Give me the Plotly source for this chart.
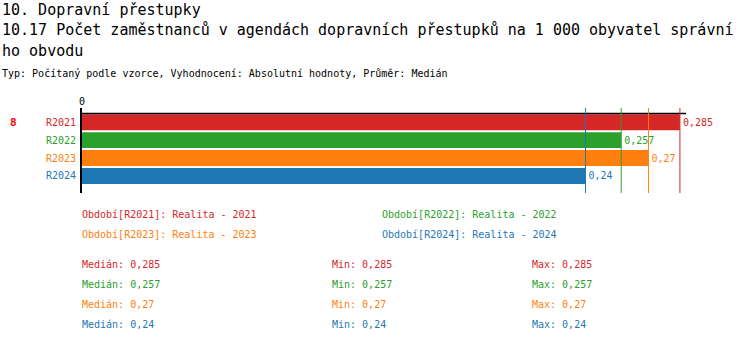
import plotly.graph_objects as go

# ---- data ----
categories = ["R2021", "R2022", "R2023", "R2024"]
values = [0.285, 0.257, 0.27, 0.24]
colors = ["#d62728", "#2ca02c", "#ff7f0e", "#1f77b4"]
legend_labels = [
    "Období[R2021]: Realita - 2021",
    "Období[R2022]: Realita - 2022",
    "Období[R2023]: Realita - 2023",
    "Období[R2024]: Realita - 2024",
]
medians = [0.285, 0.257, 0.27, 0.24]
mins = [0.285, 0.257, 0.27, 0.24]
maxs = [0.285, 0.257, 0.27, 0.24]
title_lines = [
    "10. Dopravní přestupky",
    "10.17 Počet zaměstnanců v agendách dopravních přestupků na 1 000 obyvatel správní",
    "ho obvodu",
]
subtitle = "Typ: Počítaný podle vzorce, Vyhodnocení: Absolutní hodnoty, Průměr: Medián"
rank_label = "8"

FONT = "DejaVu Sans Mono"
W, H = 750, 342
L, R, T, B = 80, 686, 108, 193
ZERO = 82           # pixel of value 0
SCALE = 2098.0      # px per unit on x
XMIN = -(ZERO - L) / SCALE
XMAX = (R - ZERO) / SCALE


def fmt(v):
    return f"{v:g}".replace(".", ",")


def X(px):
    return (px - L) / (R - L)


def Y(py):
    return (B - py) / (B - T)


fig = go.Figure()
fig.add_trace(go.Bar(
    y=categories, x=values, orientation="h",
    marker=dict(color=colors, line=dict(width=0)),
    width=0.89,
    text=[fmt(v) for v in values],
    textposition="outside",
    textfont=dict(family=FONT, size=10, color=colors),
    constraintext="none",
    cliponaxis=False,
    hoverinfo="skip",
))

shapes = []
# top horizontal line
shapes.append(dict(type="line", xref="paper", yref="paper", x0=0, x1=1, y0=Y(113.5), y1=Y(113.5),
                   line=dict(color="#000000", width=1.3), layer="above"))
# vertical axis line (as a filled rectangle, 2px)
shapes.append(dict(type="rect", xref="paper", yref="paper", x0=X(80), x1=X(82), y0=0, y1=1,
                   fillcolor="#000000", line=dict(width=0), layer="above"))
# median lines
for m, c in zip(medians, colors):
    shapes.append(dict(type="line", xref="x", yref="paper", x0=m, x1=m, y0=0, y1=1,
                       line=dict(color=c, width=1), layer="above"))

ann = []
title_y = [10, 30, 51]
for t, yy in zip(title_lines, title_y):
    ann.append(dict(text=t, x=X(0), y=Y(yy), xref="paper", yref="paper", xanchor="left", yanchor="middle",
                    showarrow=False, font=dict(family=FONT, size=15, color="black")))
ann.append(dict(text=subtitle, x=X(0), y=Y(73), xref="paper", yref="paper", xanchor="left", yanchor="middle",
                showarrow=False, font=dict(family=FONT, size=10, color="black")))
ann.append(dict(text="<b>" + rank_label + "</b>", x=X(13), y=Y(122), xref="paper", yref="paper",
                xanchor="center", yanchor="middle", showarrow=False,
                font=dict(family=FONT, size=11, color="#ff0000")))

leg_pos = [(80, 214), (380, 214), (80, 234), (380, 234)]
for lab, c, (xx, yy) in zip(legend_labels, colors, leg_pos):
    ann.append(dict(text=lab, x=X(xx), y=Y(yy), xref="paper", yref="paper", xanchor="left", yanchor="middle",
                    showarrow=False, font=dict(family=FONT, size=10, color=c)))

stat_rows = [264, 284, 304, 324]
for i, c in enumerate(colors):
    yy = stat_rows[i]
    for xx, lab, v in [(80, "Medián", medians[i]), (330, "Min", mins[i]), (530, "Max", maxs[i])]:
        ann.append(dict(text=f"{lab}: {fmt(v)}", x=X(xx), y=Y(yy), xref="paper", yref="paper",
                        xanchor="left", yanchor="middle", showarrow=False,
                        font=dict(family=FONT, size=10, color=c)))

pitch = 17.9
y_top = -(122.2 - T) / pitch
y_bot = 3 + (B - 176) / pitch

fig.update_layout(
    width=W, height=H,
    margin=dict(l=L, r=W - R, t=T, b=H - B, pad=0),
    paper_bgcolor="white", plot_bgcolor="white",
    showlegend=False,
    separators=", ",
    font=dict(family=FONT, size=10, color="black"),
    xaxis=dict(range=[XMIN, XMAX], side="top", tickvals=[0], ticktext=["0"],
               showgrid=False, zeroline=False, showline=False, ticks="",
               tickfont=dict(family=FONT, size=10, color="black"), fixedrange=True),
    yaxis=dict(type="category", range=[y_bot, y_top], tickvals=categories,
               ticktext=[f"<span style='color:{c}'>{cat}</span>" for cat, c in zip(categories, colors)],
               showgrid=False, zeroline=False, showline=False,
               ticks="", ticklabelstandoff=3,
               tickfont=dict(family=FONT, size=10), fixedrange=True),
    shapes=shapes,
    annotations=ann,
    bargap=0.11,
)

fig.write_html("out.html", config={"displayModeBar": False})
